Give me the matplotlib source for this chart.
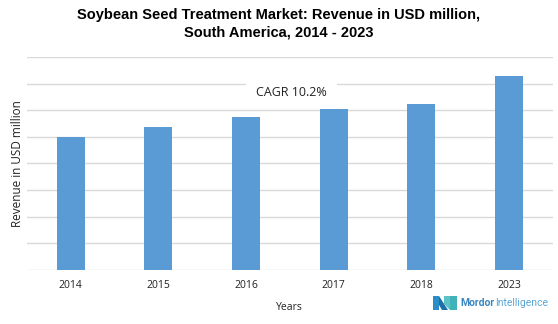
import matplotlib.pyplot as plt
from matplotlib.patches import Polygon

years = ['2014', '2015', '2016', '2017', '2018', '2023']
revenue = [5.0, 5.38, 5.75, 6.05, 6.24, 7.29]

bar_color = '#5B9BD5'
grid_color = '#D9D9D9'

fig = plt.figure(figsize=(5.58, 3.24), dpi=100)
ax = fig.add_axes([0.048, 0.167, 0.943, 0.657])

x = range(len(years))
ax.bar(x, revenue, width=0.32, color=bar_color, zorder=2)
ax.set_xlim(-0.5, len(years) - 0.5)
ax.set_ylim(0, 8)
ax.set_yticks(range(0, 9))
ax.set_yticklabels([])
ax.set_xticks(list(x))
ax.set_xticklabels(years, fontsize=7.5, family='Open Sans', color='#222222')
ax.tick_params(axis='both', length=0)
ax.tick_params(axis='x', pad=7)
ax.grid(axis='y', color=grid_color, linewidth=1, zorder=0)
for s in ax.spines.values():
    s.set_visible(False)

ax.set_xlabel('Years', fontsize=7.5, family='Open Sans', labelpad=8, color='#222222')
ax.set_ylabel('Revenue in USD million', fontsize=8.5, family='Open Sans', color='#222222',
              va='center')
ax.yaxis.set_label_coords(-0.018, 0.5)

ax.text(0.503, 0.835, 'CAGR 10.2%', transform=ax.transAxes, ha='center', va='center',
        fontsize=9, family='Open Sans', color='#222222', zorder=3,
        bbox=dict(facecolor='white', edgecolor='none', boxstyle='square,pad=0.8'))

fig.text(0.5, 0.927, 'Soybean Seed Treatment Market: Revenue in USD million,\nSouth America, 2014 - 2023',
         ha='center', va='center', fontsize=10.5, fontweight='bold', family='Liberation Sans',
         linespacing=1.25)

# logo
def px(xp, yp):
    return (xp / 558, 1 - yp / 324)

logo_shapes = [
    ([(433, 310), (433, 296), (439, 296), (439, 310)], '#2A8FC8'),
    ([(439, 296), (448, 310), (442, 310), (439, 305)], '#1F6FA8'),
    ([(444, 296), (450, 296), (450, 310), (444, 304)], '#5BC2C6'),
    ([(450, 296), (457, 296), (457, 310), (450, 310)], '#3FB3B8'),
]
for pts, col in logo_shapes:
    fig.patches.append(Polygon([px(a, b) for a, b in pts], closed=True,
                               transform=fig.transFigure, facecolor=col, edgecolor='none'))
fig.text(460 / 558, 1 - 303 / 324, 'Mordor', fontsize=7.5, family='Roboto', fontweight='bold',
         color='#3A86C0', ha='left', va='center')
fig.text(495 / 558, 1 - 303 / 324, 'Intelligence', fontsize=7.5, family='Roboto',
         color='#5AA6D6', ha='left', va='center')

fig.savefig('out.png', dpi=100)
